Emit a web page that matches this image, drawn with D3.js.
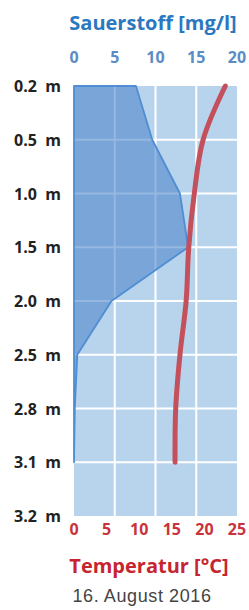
<!DOCTYPE html>
<html>
<head>
<meta charset="utf-8">
<script src="https://cdn.jsdelivr.net/npm/d3@7"></script>
<style>
    body { margin: 0; background: #fff; }
    svg { display: block; }
</style>
</head>
<body>
<div id="chart"></div>
<script>
/* depth categories, oxygen and temperature per depth */
var depths = ["0.2", "0.5", "1.0", "1.5", "2.0", "2.5", "2.8", "3.1", "3.2"];
var oxygen = [7.6, 9.6, 13.0, 14.0, 4.6, 0.4, 0.1, 0.0];
var temperature = [23.2, 19.8, 18.45, 17.6, 17.2, 16.25, 15.6, 15.5];
var oxygenTicks = [0, 5, 10, 15, 20];
var temperatureTicks = [0, 5, 10, 15, 20, 25];
var dateLabel = "16. August 2016";

var width = 249, height = 610;
var plotLeft = 74, plotRight = 237, plotTop = 86, plotBottom = 516;

var svg = d3.select("#chart").append("svg")
    .attr("width", width)
    .attr("height", height);

var y = d3.scalePoint().domain(depths).range([plotTop, plotBottom]);
var xO = d3.scaleLinear().domain([0, 20]).range([plotLeft, plotRight]);
var xT = d3.scaleLinear().domain([0, 25]).range([plotLeft, plotRight]);

/* plot background */
svg.append("rect")
    .attr("x", plotLeft).attr("y", plotTop)
    .attr("width", plotRight - plotLeft).attr("height", plotBottom - plotTop)
    .attr("fill", "#b8d3ec");

/* white grid */
var grid = svg.append("g").attr("stroke", "#fff").attr("stroke-width", 2);
grid.selectAll(".v").data(oxygenTicks.slice(1, -1)).enter().append("line")
    .attr("x1", function(d) { return xO(d); })
    .attr("x2", function(d) { return xO(d); })
    .attr("y1", plotTop).attr("y2", plotBottom);
grid.selectAll(".h").data(depths.slice(1, -1)).enter().append("line")
    .attr("x1", plotLeft).attr("x2", plotRight)
    .attr("y1", function(d) { return y(d); })
    .attr("y2", function(d) { return y(d); });

/* oxygen area */
var oxyData = oxygen.map(function(v, i) { return { depth: depths[i], value: v }; });
var area = d3.area()
    .y(function(d) { return y(d.depth); })
    .x0(xO(0))
    .x1(function(d) { return xO(d.value); });
svg.append("path")
    .datum(oxyData)
    .attr("d", area)
    .attr("fill", "#4f87cc")
    .attr("fill-opacity", 0.6)
    .attr("stroke", "#4f8ed2")
    .attr("stroke-width", 1.8)
    .attr("stroke-linejoin", "round");

/* temperature line */
var tempData = temperature.map(function(v, i) { return { depth: depths[i], value: v }; });
var line = d3.line()
    .y(function(d) { return y(d.depth); })
    .x(function(d) { return xT(d.value); })
    .curve(d3.curveCatmullRom);
svg.append("path")
    .datum(tempData)
    .attr("d", line)
    .attr("fill", "none")
    .attr("stroke", "#c4505b")
    .attr("stroke-width", 5)
    .attr("stroke-linecap", "round");

var font = "'Open Sans', sans-serif";

/* depth labels */
svg.append("g").selectAll("text").data(depths).enter().append("text")
    .attr("x", 61)
    .attr("y", function(d) { return y(d) + 6; })
    .attr("text-anchor", "end")
    .attr("font-family", font)
    .attr("font-weight", "bold")
    .attr("font-size", 16)
    .attr("fill", "#222")
    .text(function(d) { return d + "\u00a0 m"; });

/* oxygen axis */
svg.append("g").selectAll("text").data(oxygenTicks).enter().append("text")
    .attr("x", function(d) { return xO(d); })
    .attr("y", 63)
    .attr("text-anchor", "middle")
    .attr("font-family", font)
    .attr("font-weight", "bold")
    .attr("font-size", 16)
    .attr("fill", "#5b8cc6")
    .text(function(d) { return d; });
svg.append("text")
    .attr("x", 153).attr("y", 30)
    .attr("text-anchor", "middle")
    .attr("font-family", font)
    .attr("font-weight", "bold")
    .attr("font-size", 20)
    .attr("fill", "#2a78c0")
    .text("Sauerstoff [mg/l]");

/* temperature axis */
svg.append("g").selectAll("text").data(temperatureTicks).enter().append("text")
    .attr("x", function(d) { return xT(d); })
    .attr("y", 535)
    .attr("text-anchor", "middle")
    .attr("font-family", font)
    .attr("font-weight", "bold")
    .attr("font-size", 16)
    .attr("fill", "#c8333c")
    .text(function(d) { return d; });
svg.append("text")
    .attr("x", 149).attr("y", 573)
    .attr("text-anchor", "middle")
    .attr("font-family", font)
    .attr("font-weight", "bold")
    .attr("font-size", 20)
    .attr("fill", "#c8242f")
    .text("Temperatur [\u00b0C]");

svg.append("text")
    .attr("x", 142).attr("y", 602)
    .attr("text-anchor", "middle")
    .attr("font-family", "'Liberation Sans', Arial, sans-serif")
    .attr("font-size", 18)
    .attr("letter-spacing", 0.6)
    .attr("fill", "#444")
    .text(dateLabel);
</script>
</body>
</html>
